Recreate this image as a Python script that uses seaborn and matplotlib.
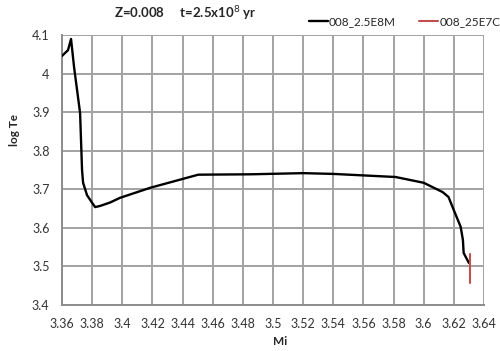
import matplotlib
matplotlib.use("Agg")
import matplotlib.pyplot as plt
import seaborn as sns
import pandas as pd

# Data
mi_main = [3.3600, 3.3640, 3.3660, 3.3680, 3.3720, 3.3733, 3.3740, 3.3766, 3.3800,
           3.3820, 3.3853, 3.3920, 3.3985, 3.4185, 3.4504, 3.4850, 3.5200, 3.5400,
           3.5813, 3.6000, 3.6125, 3.6165, 3.6180, 3.6205, 3.6245, 3.6260, 3.6265,
           3.6300]
logte_main = [4.046, 4.061, 4.090, 4.017, 3.898, 3.750, 3.717, 3.685, 3.665,
              3.654, 3.657, 3.666, 3.678, 3.704, 3.738, 3.739, 3.742, 3.740,
              3.732, 3.717, 3.693, 3.680, 3.665, 3.641, 3.603, 3.569, 3.535,
              3.509]
mi_red = [3.6305, 3.6305]
logte_red = [3.533, 3.456]

series_main = "008_2.5E8M"
series_red = "008_25E7C"
xticks = [3.36, 3.38, 3.40, 3.42, 3.44, 3.46, 3.48, 3.50, 3.52, 3.54, 3.56, 3.58, 3.60, 3.62, 3.64]
xticklabels = ["3.36", "3.38", "3.4", "3.42", "3.44", "3.46", "3.48", "3.5", "3.52",
               "3.54", "3.56", "3.58", "3.6", "3.62", "3.64"]
yticks = [3.4, 3.5, 3.6, 3.7, 3.8, 3.9, 4.0, 4.1]
yticklabels = ["3.4", "3.5", "3.6", "3.7", "3.8", "3.9", "4", "4.1"]

df_main = pd.DataFrame({"Mi": mi_main, "logTe": logte_main})
df_red = pd.DataFrame({"Mi": mi_red, "logTe": logte_red})

sns.set_theme(style="whitegrid")
plt.rcParams["font.family"] = ["Lato", "DejaVu Sans"]

fig = plt.figure(figsize=(5.0, 3.51), dpi=100)
ax = fig.add_axes([0.124, 0.131, 0.844, 0.769])

sns.lineplot(data=df_main, x="Mi", y="logTe", sort=False, estimator=None,
             color="black", linewidth=1.7, ax=ax, label=series_main, zorder=3)
sns.lineplot(data=df_red, x="Mi", y="logTe", sort=False, estimator=None,
             color="#c0504d", linewidth=1.5, ax=ax, label=series_red, zorder=3)

ax.set_xlim(3.36, 3.64)
ax.set_ylim(3.4, 4.1)
ax.set_xticks(xticks)
ax.set_xticklabels(xticklabels)
ax.set_yticks(yticks)
ax.set_yticklabels(yticklabels)
ax.tick_params(axis="both", labelsize=9, labelcolor="#333333", length=0, pad=9)
for side in ["top", "right"]:
    ax.spines[side].set_visible(False)
for side in ["left", "bottom"]:
    ax.spines[side].set_visible(True)
    ax.spines[side].set_color("#8c8c8c")
    ax.spines[side].set_linewidth(1.4)
ax.grid(True, which="major", axis="both", color="#a2a2a2", linewidth=1.4)

ax.set_xlabel("")
ax.set_ylabel("")
fig.text(0.56, 0.012, "Mi", fontsize=8.5, fontweight="bold", ha="center", va="bottom")
fig.text(0.028, 0.63, "log Te", fontsize=8.5, fontweight="bold", rotation=90,
         ha="center", va="center")
fig.text(0.37, 0.962, r"Z=0.008     t=2.5x10$^{8}$ yr", fontsize=9.5, fontweight="bold",
         ha="center", va="center")

leg = ax.legend(loc="lower left", bbox_to_anchor=(0.565, 1.0), ncol=2, frameon=False,
                fontsize=8.5, handlelength=1.6, handletextpad=0.1, columnspacing=2.0,
                borderaxespad=0.3)

fig.savefig("out.png", dpi=100)
